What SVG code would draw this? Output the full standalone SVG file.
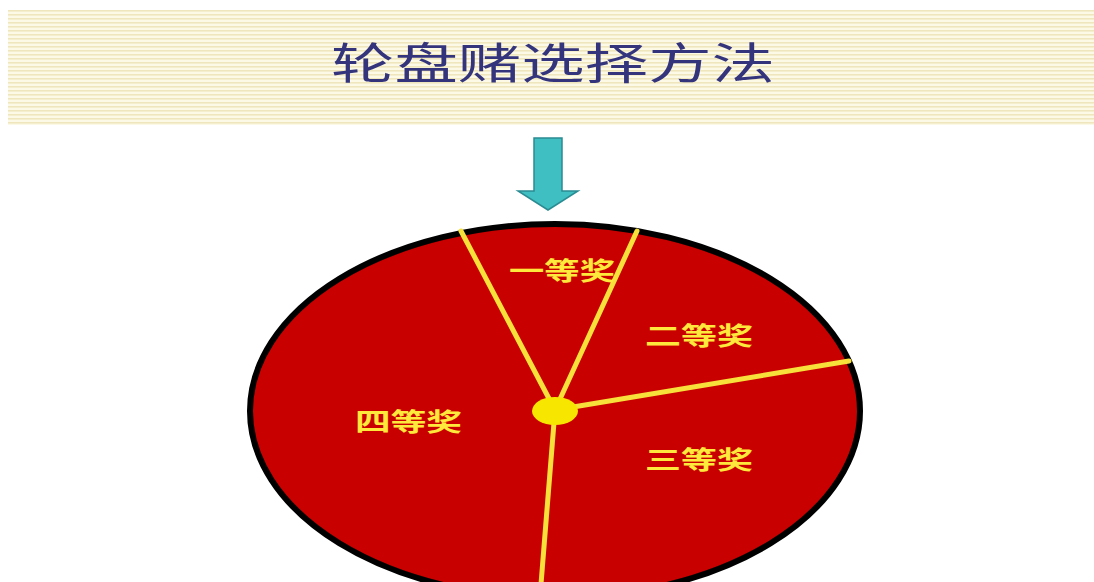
<svg xmlns="http://www.w3.org/2000/svg" width="1094" height="582" viewBox="0 0 1094 582">
<defs>
<pattern id="stripes" x="0" y="10" width="8" height="4" patternUnits="userSpaceOnUse">
<rect x="0" y="0" width="8" height="4" fill="#FCF9E6"/>
<rect x="0" y="0" width="8" height="1.6" fill="#EFE6BE"/>
</pattern>
<style>
.lbl{font-family:"Noto Sans CJK SC","Noto Sans CJK JP",sans-serif;font-weight:bold;font-size:25px;fill:#FFE83C}
.spoke{stroke:#F7E03A;stroke-width:5;stroke-linecap:round;fill:none}
</style>
</defs>
<rect x="0" y="0" width="1094" height="582" fill="#FFFFFF"/>
<g id="banner">
<rect x="8" y="10" width="1086" height="115" fill="url(#stripes)"/>
<text x="331" y="79" textLength="444" lengthAdjust="spacingAndGlyphs" font-family="Noto Sans CJK SC, Noto Sans CJK JP, sans-serif" font-size="43" fill="#34347C">轮盘赌选择方法</text>
</g>
<g id="pointer">
<polygon points="534,138 562,138 562,191 578,191 548,210 518,191 534,191" fill="#3FBFC2" stroke="#2A8C92" stroke-width="1.5"/>
</g>
<g id="wheel">
<ellipse cx="555" cy="411" rx="305" ry="187" fill="#C80000" stroke="#000000" stroke-width="6"/>
</g>
<g id="connectors">
<line class="spoke" x1="555" y1="410" x2="461" y2="231"/>
<line class="spoke" x1="555" y1="410" x2="637" y2="231"/>
<line class="spoke" x1="555" y1="410" x2="849" y2="361"/>
<line class="spoke" x1="555" y1="410" x2="541" y2="584"/>
</g>
<g id="hub">
<ellipse cx="555" cy="411" rx="23" ry="14" fill="#F7E600"/>
</g>
<g id="prize1"><text class="lbl" x="509" y="280" textLength="106" lengthAdjust="spacingAndGlyphs">一等奖</text></g>
<g id="prize2"><text class="lbl" x="645" y="345" textLength="108" lengthAdjust="spacingAndGlyphs">二等奖</text></g>
<g id="prize3"><text class="lbl" x="645" y="469" textLength="108" lengthAdjust="spacingAndGlyphs">三等奖</text></g>
<g id="prize4"><text class="lbl" x="355" y="431" textLength="107" lengthAdjust="spacingAndGlyphs">四等奖</text></g>
</svg>
